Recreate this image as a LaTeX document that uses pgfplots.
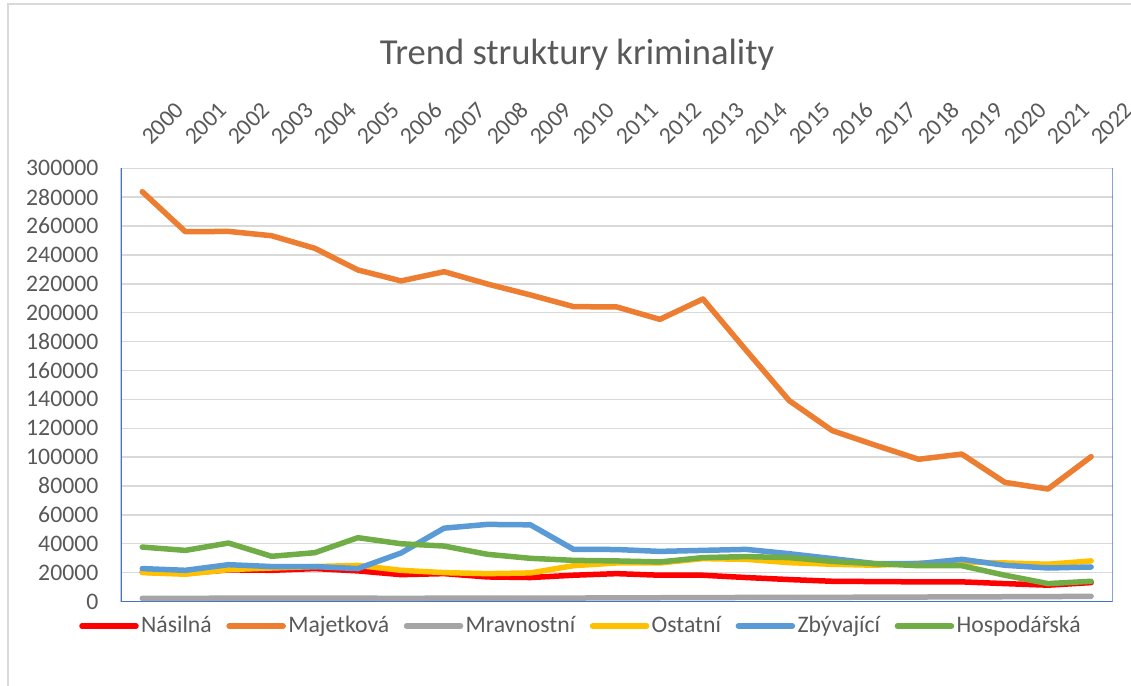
\documentclass[border=0pt]{standalone}
\usepackage{fontspec}
\setmainfont{Carlito}
\usepackage{pgfplots}
\usepackage{pgfplotstable}
\pgfplotsset{compat=1.18}

\definecolor{cRed}{HTML}{FF0000}
\definecolor{cOrange}{HTML}{ED7D31}
\definecolor{cGray}{HTML}{A5A5A5}
\definecolor{cYellow}{HTML}{FFC000}
\definecolor{cBlue}{HTML}{5B9BD5}
\definecolor{cGreen}{HTML}{70AD47}
\definecolor{axisblue}{HTML}{4472C4}
\definecolor{gridgray}{HTML}{D9D9D9}
\definecolor{labelgray}{HTML}{595959}

\newcommand\tickfont{\fontsize{11.85}{14}\selectfont}
\newcommand\titlefont{\fontsize{18.3}{22}\selectfont}

% rok (0 = 2000), Násilná, Majetková, Mravnostní, Ostatní, Zbývající, Hospodářská
\pgfplotstableread{
x  nas    maj     mrav  ost    zby    hosp
0  20400  283800  2200  20000  22800  37700
1  19400  256100  2200  18900  21600  35400
2  21900  256300  2300  22100  25500  40500
3  21600  253300  2300  23200  24200  31300
4  22800  244600  2400  24200  24200  33800
5  21200  229600  2300  25000  22800  44200
6  18600  222000  2200  21600  33600  40000
7  19300  228400  2300  20000  50800  38400
8  17000  219900  2400  19300  53400  32700
9  16600  212300  2400  19800  53100  29900
10 18200  204200  2400  24800  36100  28500
11 19300  204000  2500  26700  36000  28100
12 18200  195400  2600  26700  34700  27400
13 18200  209500  2700  29700  35400  30400
14 16600  174000  2800  29200  36100  31100
15 15200  139100  2800  26900  33100  30400
16 14000  118300  2900  25800  29700  27800
17 13800  108200  3000  25100  26200  26200
18 13600  98500   3100  26500  26200  24800
19 13600  102100  3200  27400  29200  24800
20 12400  82500   3300  26700  25100  18200
21 11300  77900   3400  25800  23200  12400
22 13100  100300  3600  28100  23900  14000
}\data

\begin{document}
\begin{tikzpicture}
  \useasboundingbox (0pt,0pt) rectangle (565.5pt,-343pt);
  % chart frame
  \draw[gridgray, line width=0.6pt] (4pt,-343pt) -- (4pt,-2pt) -- (565.5pt,-2pt);
  \node[anchor=base, font=\titlefont, text=labelgray] at (288.5pt,-32pt)
    {Trend struktury kriminality};

  \begin{axis}[
    at={(60.35pt,-300.75pt)}, anchor=south west,
    width=496pt, height=216.6pt, scale only axis,
    xmin=-0.5, xmax=22.5, ymin=0, ymax=300000,
    xtick={0,...,22},
    xticklabels={2000,2001,2002,2003,2004,2005,2006,2007,2008,2009,2010,
                 2011,2012,2013,2014,2015,2016,2017,2018,2019,2020,2021,2022},
    xticklabel pos=upper,
    ytick={0,20000,...,300000},
    scaled y ticks=false,
    axis line style={draw=none},
    major tick length=0pt,
    ymajorgrids,
    major grid style={color=gridgray, line width=0.7pt},
    ticklabel style={font=\tickfont, text=labelgray},
    xticklabel style={xshift=4.5pt, yshift=11pt, rotate=45,
                      anchor=south west, inner sep=0pt},
    yticklabel style={anchor=east, inner sep=0pt, xshift=-11pt,
                      /pgf/number format/fixed,
                      /pgf/number format/1000 sep={},
                      /pgf/number format/assume math mode=true},
    every axis plot/.append style={line width=2.75pt, line cap=round,
                                   line join=round, mark=none},
    legend columns=6,
    legend cell align=left,
    legend style={draw=none, fill=none, at={(0.463,-0.0566)}, anchor=center,
                  font=\tickfont, text=labelgray,
                  nodes={inner sep=0pt},
                  /tikz/every odd column/.append style={column sep=1.2pt},
                  /tikz/every even column/.append style={column sep=7.3pt}},
    legend image code/.code={\draw[#1] (0pt,0pt) -- (27pt,0pt);},
  ]
    \draw[axisblue, line width=0.8pt]
      (rel axis cs:0,1) -- (rel axis cs:0,0) -- (rel axis cs:1,0) -- (rel axis cs:1,1);
    \addplot[cRed]    table[x=x, y=nas]  {\data};
    \addplot[cOrange] table[x=x, y=maj]  {\data};
    \addplot[cGray]   table[x=x, y=mrav] {\data};
    \addplot[cYellow] table[x=x, y=ost]  {\data};
    \addplot[cBlue]   table[x=x, y=zby]  {\data};
    \addplot[cGreen]  table[x=x, y=hosp] {\data};
    \legend{Násilná, Majetková, Mravnostní, Ostatní, Zbývající, Hospodářská}
  \end{axis}
\end{tikzpicture}
\end{document}
